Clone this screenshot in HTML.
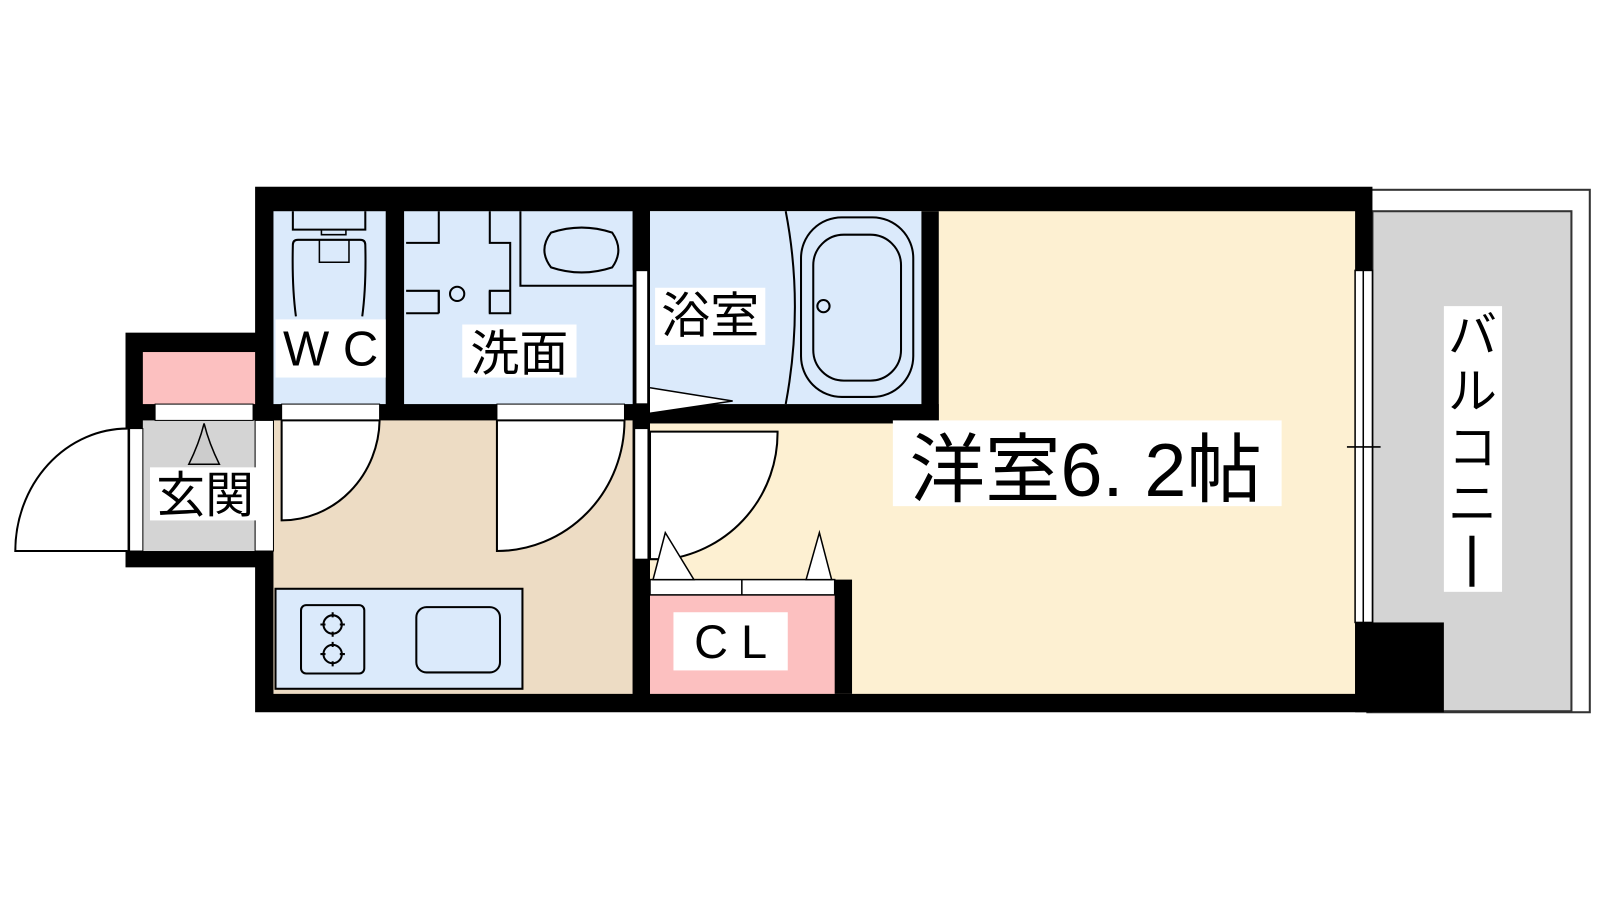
<!DOCTYPE html>
<html><head><meta charset="utf-8"><style>
html,body{margin:0;padding:0;background:#fff;width:1600px;height:900px;overflow:hidden}
text{font-family:"Liberation Sans","Noto Sans CJK JP",sans-serif;fill:#000}
</style></head><body>
<svg width="1600" height="900" viewBox="0 0 1568 882" preserveAspectRatio="none" xmlns="http://www.w3.org/2000/svg">
<!-- balcony -->
<rect x="1340" y="186" width="218" height="512" fill="#fff" stroke="#333" stroke-width="2"/>
<rect x="1345" y="207" width="195" height="490" fill="#d4d4d4" stroke="#333" stroke-width="2"/>
<!-- outer black -->
<rect x="250" y="183" width="1095" height="515" fill="#000"/>
<rect x="123" y="326" width="145" height="230" fill="#000"/>
<!-- room -->
<rect x="637" y="207" width="691" height="473" fill="#fdf0d2"/>
<!-- kitchen/hall -->
<rect x="268" y="412" width="352" height="268" fill="#eddcc4"/>
<!-- WC -->
<rect x="268" y="207" width="110" height="189" fill="#dbeafb"/>
<!-- senmen -->
<rect x="396" y="207" width="224" height="189" fill="#dbeafb"/>
<!-- bath -->
<rect x="637" y="207" width="266" height="189" fill="#dbeafb"/>
<rect x="620" y="207" width="17" height="58" fill="#000"/>
<rect x="623" y="265" width="12" height="131" fill="#fff" stroke="#000" stroke-width="1.5"/>
<rect x="903" y="207" width="17" height="208" fill="#000"/>
<rect x="625" y="396" width="295" height="19" fill="#000"/>
<!-- genkan -->
<rect x="140" y="345" width="110" height="51" fill="#fcc0c0"/>
<rect x="140" y="412" width="110" height="128" fill="#d4d4d4"/>
<rect x="152" y="396" width="96" height="16" fill="#fff" stroke="#000" stroke-width="1"/>
<rect x="250" y="412" width="18" height="128" fill="#fff" stroke="#000" stroke-width="1"/>
<rect x="127" y="420" width="13" height="120" fill="#fff" stroke="#000" stroke-width="1"/>
<path d="M125 420 A110 120 0 0 0 15 540 L125 540" fill="#fff" stroke="#000" stroke-width="2"/>
<path d="M200 415 Q195 435 185 455 L215 455 Q205 435 200 415Z" fill="#ccc" stroke="#000" stroke-width="1.5"/>
<!-- WC / senmen doors -->
<rect x="276" y="396" width="96" height="16" fill="#fff" stroke="#000" stroke-width="1"/>
<path d="M276 412 L372 412 A96 100 0 0 1 276 510 Z" fill="#fff" stroke="#000" stroke-width="2"/>
<rect x="487" y="396" width="125" height="16" fill="#fff" stroke="#000" stroke-width="1"/>
<path d="M487 412 L612 412 A125 128 0 0 1 487 540 Z" fill="#fff" stroke="#000" stroke-width="2"/>
<!-- wall between hall and room with door -->
<rect x="620" y="412" width="17" height="268" fill="#000"/>
<rect x="622" y="420" width="13" height="128" fill="#fff" stroke="#000" stroke-width="1"/>
<path d="M637 423 L762 423 A125 125 0 0 1 655 548 L637 548 Z" fill="#fff" stroke="#000" stroke-width="2"/>
<!-- CL -->
<rect x="637" y="568" width="198" height="112" fill="#000"/>
<rect x="637" y="583" width="181" height="97" fill="#fcc0c0"/>
<rect x="637" y="568" width="181" height="15" fill="#fff" stroke="#000" stroke-width="1.5"/>
<line x1="727" y1="568" x2="727" y2="583" stroke="#000" stroke-width="1.5"/>
<path d="M652 522 L640 568 L680 568 Z" fill="#fff" stroke="#000" stroke-width="1.5"/>
<path d="M803 522 L790 568 L815 568 Z" fill="#fff" stroke="#000" stroke-width="1.5"/>
<!-- kitchen counter -->
<rect x="270" y="577" width="242" height="98" fill="#dbeafb" stroke="#000" stroke-width="2"/>
<rect x="295" y="593" width="62" height="67" rx="5" fill="none" stroke="#000" stroke-width="2"/>
<circle cx="326" cy="612" r="9" fill="none" stroke="#000" stroke-width="2"/>
<circle cx="326" cy="641" r="9" fill="none" stroke="#000" stroke-width="2"/>
<path d="M326 600v5M326 619v5M314 612h5M333 612h5M326 629v5M326 648v5M314 641h5M333 641h5" stroke="#000" stroke-width="2"/>
<rect x="408" y="595" width="82" height="64" rx="10" fill="none" stroke="#000" stroke-width="2"/>
<!-- WC fixtures -->
<path d="M287 207 L287 225 L358 225 L358 207" fill="none" stroke="#000" stroke-width="2"/>
<path d="M290 310 Q286 280 287 240 Q287 235 292 235 L353 235 Q358 235 358 240 Q359 280 355 310" fill="none" stroke="#000" stroke-width="2"/>
<path d="M315 225 L315 230 L339 230 L339 225" fill="none" stroke="#000" stroke-width="1.5"/>
<path d="M313 235 L313 257 L342 257 L342 235" fill="none" stroke="#000" stroke-width="1.5"/>
<!-- senmen fixtures -->
<path d="M398 238 L430 238 L430 207 M480 207 L480 238 L500 238 L500 307 L480 307 L480 285 L500 285 M430 307 L430 285 L398 285 M430 307 L398 307" fill="none" stroke="#000" stroke-width="2"/>
<path d="M430 285 L430 307 M480 285 L480 307" stroke="#000" stroke-width="2"/>
<circle cx="448" cy="288" r="7" fill="none" stroke="#000" stroke-width="2"/>
<path d="M510 207 L510 280 L620 280" fill="none" stroke="#000" stroke-width="2"/>
<path d="M540 228 Q570 218 600 228 Q612 245 600 262 Q570 272 540 262 Q527 245 540 228Z" fill="none" stroke="#000" stroke-width="2"/>
<!-- bath fixtures -->
<path d="M770 207 Q788 300 770 396" fill="none" stroke="#000" stroke-width="2"/>
<rect x="785" y="213" width="110" height="176" rx="40" fill="none" stroke="#000" stroke-width="2"/>
<rect x="797" y="230" width="86" height="143" rx="30" fill="none" stroke="#000" stroke-width="2"/>
<circle cx="807" cy="300" r="6" fill="none" stroke="#000" stroke-width="2"/>
<path d="M637 380 L718 393 L637 405" fill="#fff" stroke="#000" stroke-width="1.5"/>
<!-- window -->
<rect x="1328" y="265" width="17" height="345" fill="#fff" stroke="#000" stroke-width="1.5"/>
<line x1="1336" y1="265" x2="1336" y2="610" stroke="#000" stroke-width="1.5"/>
<line x1="1320" y1="438" x2="1353" y2="438" stroke="#000" stroke-width="1.5"/>
<rect x="1328" y="610" width="87" height="88" fill="#000"/>
<!-- labels -->
<rect x="270" y="313" width="108" height="57" fill="#fff"/>
<text x="324" y="358" font-size="48" text-anchor="middle">W C</text>
<rect x="453" y="318" width="112" height="52" fill="#fff"/>
<text x="509" y="363" font-size="48" text-anchor="middle">洗面</text>
<rect x="642" y="282" width="108" height="56" fill="#fff"/>
<text x="696" y="326" font-size="48" text-anchor="middle">浴室</text>
<rect x="147" y="458" width="108" height="52" fill="#fff"/>
<text x="201" y="502" font-size="48" text-anchor="middle">玄関</text>
<rect x="660" y="600" width="112" height="57" fill="#fff"/>
<text x="716" y="645" font-size="46" text-anchor="middle">C L</text>
<rect x="875" y="412" width="381" height="84" fill="#fff"/>
<text x="1064" y="486" font-size="74" text-anchor="middle">洋室6. 2帖</text>
<rect x="1415" y="300" width="57" height="280" fill="#fff"/>
<text x="1443" y="345" font-size="48" text-anchor="middle">バ</text>
<text x="1443" y="400" font-size="48" text-anchor="middle">ル</text>
<text x="1443" y="455" font-size="48" text-anchor="middle">コ</text>
<text x="1443" y="510" font-size="48" text-anchor="middle">ニ</text>
<rect x="1440" y="525" width="5" height="50" fill="#000"/>
</svg>
</body></html>
